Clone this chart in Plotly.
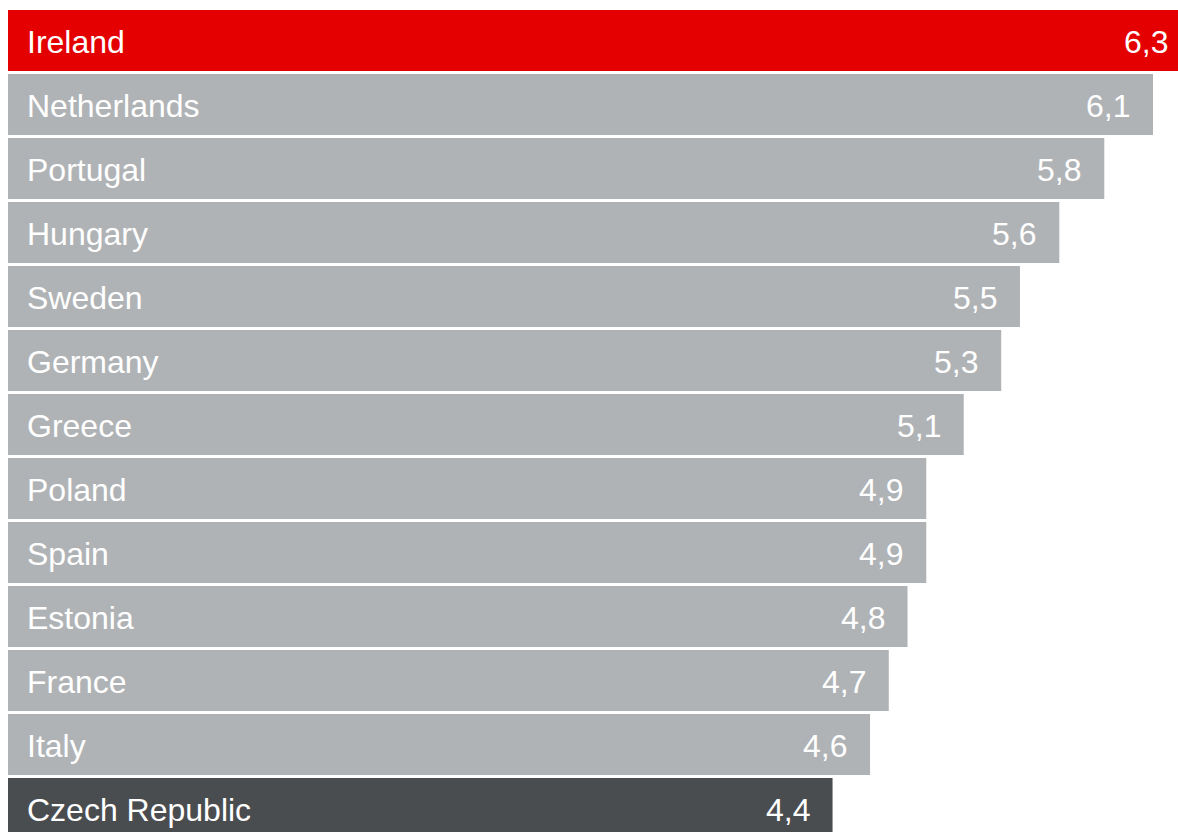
import plotly.graph_objects as go

countries = ["Ireland", "Netherlands", "Portugal", "Hungary", "Sweden", "Germany",
             "Greece", "Poland", "Spain", "Estonia", "France", "Italy", "Czech Republic"]
values = [6.30, 6.11, 5.85, 5.61, 5.40, 5.30, 5.10, 4.90, 4.90, 4.80, 4.70, 4.60, 4.40]
value_labels = ["6,3", "6,1", "5,8", "5,6", "5,5", "5,3", "5,1", "4,9", "4,9", "4,8", "4,7", "4,6", "4,4"]

RED = "#E40000"
GRAY = "#B0B3B6"
DARK = "#4A4D50"
colors = [RED if c == "Ireland" else DARK if c == "Czech Republic" else GRAY for c in countries]

FONT = "Liberation Sans, Arial, Helvetica, sans-serif"
X_MAX = 1170 / 187.4

fig = go.Figure(go.Bar(
    x=values, y=countries, orientation="h",
    marker=dict(color=colors, line=dict(width=0)),
    hoverinfo="skip",
))

annotations = []
for c, v, lab in zip(countries, values, value_labels):
    annotations.append(dict(x=0, y=c, xref="x", yref="y", text=c, showarrow=False,
                            xanchor="left", yanchor="middle", xshift=17, yshift=-1,
                            font=dict(family=FONT, size=32, color="white")))
    clipped = v > X_MAX
    annotations.append(dict(x=X_MAX - 0.001 if clipped else v, y=c, xref="x", yref="y",
                            text=lab, showarrow=False,
                            xanchor="right", yanchor="middle", xshift=-8 if clipped else -21,
                            yshift=-1,
                            font=dict(family=FONT, size=32, color="white")))

fig.update_layout(
    width=1178, height=832,
    margin=dict(l=0, r=0, t=0, b=0),
    paper_bgcolor="white", plot_bgcolor="white",
    bargap=0.047,
    showlegend=False,
    annotations=annotations,
    xaxis=dict(range=[-8 / 187.4, X_MAX], visible=False, fixedrange=True),
    yaxis=dict(categoryorder="array", categoryarray=countries,
               range=[(832 - 40.5) / 64, -40.5 / 64], visible=False, fixedrange=True),
)

fig.write_html("out.html", config={"displayModeBar": False})
